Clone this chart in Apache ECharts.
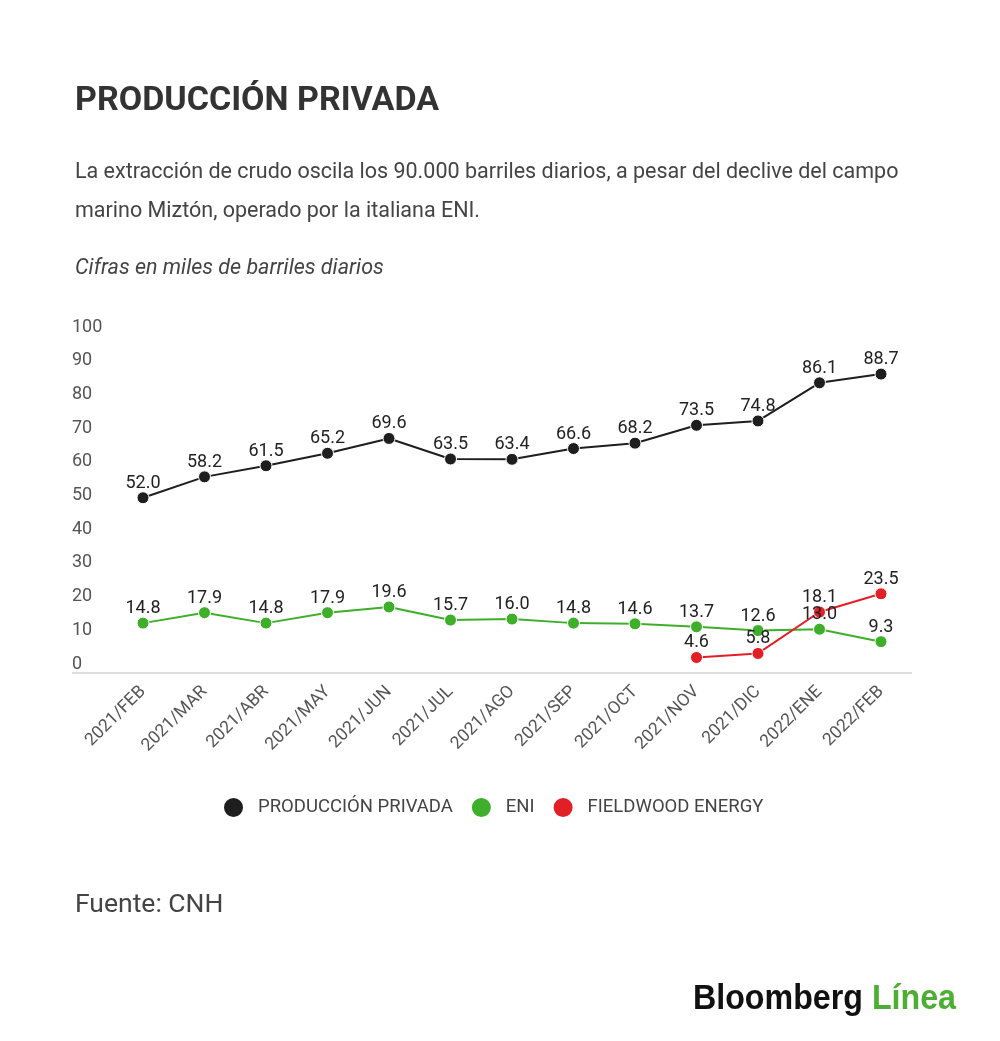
<!DOCTYPE html>
<html>
<head>
<meta charset="utf-8">
<script src="https://cdn.jsdelivr.net/npm/echarts@6/dist/echarts.min.js"></script>
<style>
  html, body { margin: 0; padding: 0; background: #fff; }
  #chart { width: 1000px; height: 1041px; }
</style>
</head>
<body>
<div id="chart"></div>
<script>
// categorias y series
var meses = ["2021/FEB", "2021/MAR", "2021/ABR", "2021/MAY", "2021/JUN", "2021/JUL", "2021/AGO",
    "2021/SEP", "2021/OCT", "2021/NOV", "2021/DIC", "2022/ENE", "2022/FEB"];
var produccionPrivada = [52.0, 58.2, 61.5, 65.2, 69.6, 63.5, 63.4, 66.6, 68.2, 73.5, 74.8, 86.1, 88.7];
var eni = [14.8, 17.9, 14.8, 17.9, 19.6, 15.7, 16.0, 14.8, 14.6, 13.7, 12.6, 13.0, 9.3];
var fieldwood = [null, null, null, null, null, null, null, null, null, 4.6, 5.8, 18.1, 23.5];
var yTicks = [0, 100, 10]; // min, max, intervalo

var FONT = "Roboto";

function lineSerie(name, data, color) {
    return {
        name: name,
        type: "line",
        data: data,
        symbol: "circle",
        symbolSize: 12,
        lineStyle: {color: color, width: 2},
        itemStyle: {color: color, borderColor: "#fff", borderWidth: 1},
        label: {
            show: true,
            position: "top",
            distance: -1,
            color: "#222",
            fontFamily: FONT,
            fontSize: 18,
            formatter: function (p) { return p.value.toFixed(1); }
        },
        emphasis: {disabled: true},
        animation: false
    };
}

var chart = echarts.init(document.getElementById("chart"));

chart.setOption({
    backgroundColor: "#fff",
    title: [
        {
            text: "PRODUCCIÓN PRIVADA",
            left: 70, top: 79,
            textStyle: {fontFamily: FONT, fontSize: 34, fontWeight: "bold", color: "#333"}
        },
        {
            text: "La extracción de crudo oscila los 90.000 barriles diarios, a pesar del declive del campo\nmarino Miztón, operado por la italiana ENI.",
            left: 70, top: 148,
            textStyle: {fontFamily: FONT, fontSize: 21.5, fontWeight: "normal", color: "#444", lineHeight: 39}
        },
        {
            text: "Cifras en miles de barriles diarios",
            left: 70, top: 253,
            textStyle: {fontFamily: FONT, fontSize: 21.5, fontStyle: "italic", fontWeight: "normal", color: "#444"}
        },
        {
            text: "Fuente: CNH",
            left: 70, top: 887,
            textStyle: {fontFamily: FONT, fontSize: 26.5, fontWeight: "normal", color: "#444"}
        }
    ],
    legend: {
        top: 791,
        left: 217,
        icon: "circle",
        itemWidth: 21,
        itemHeight: 21,
        itemGap: 17,
        textStyle: {fontFamily: FONT, fontSize: 18.5, color: "#444", padding: [0, 0, 0, 9]},
        selectedMode: false,
        data: ["PRODUCCIÓN PRIVADA", "ENI", "FIELDWOOD ENERGY"]
    },
    grid: {left: 143, right: 119, top: 336, bottom: 368, containLabel: false},
    xAxis: {
        type: "category",
        data: meses,
        boundaryGap: false,
        axisLine: {show: false},
        axisTick: {show: false},
        axisLabel: {rotate: 45, margin: 16, color: "#555", fontFamily: FONT, fontSize: 17.5}
    },
    yAxis: {
        type: "value",
        min: yTicks[0],
        max: yTicks[1],
        interval: yTicks[2],
        axisLine: {show: false},
        axisTick: {show: false},
        splitLine: {show: false},
        axisLabel: {
            align: "left", verticalAlign: "bottom", margin: 71,
            color: "#555", fontFamily: FONT, fontSize: 18
        }
    },
    graphic: [
        {
            type: "line",
            shape: {x1: 72, y1: 673, x2: 912, y2: 673},
            style: {stroke: "#ddd", lineWidth: 2},
            z: 0
        },
        {
            // logo
            type: "text",
            x: 693, y: 999,
            scaleX: 0.92,
            style: {
                text: "Bloomberg {g|Línea}",
                fontFamily: "Liberation Sans", fontSize: 35, fontWeight: "bold", fill: "#111",
                verticalAlign: "middle",
                rich: {g: {fontFamily: "Liberation Sans", fontSize: 35, fontWeight: "bold", fill: "#4cae33"}}
            }
        }
    ],
    series: [
        lineSerie("PRODUCCIÓN PRIVADA", produccionPrivada, "#1e1e1e"),
        lineSerie("ENI", eni, "#3fae2a"),
        lineSerie("FIELDWOOD ENERGY", fieldwood, "#e21f26")
    ]
});
</script>
</body>
</html>
